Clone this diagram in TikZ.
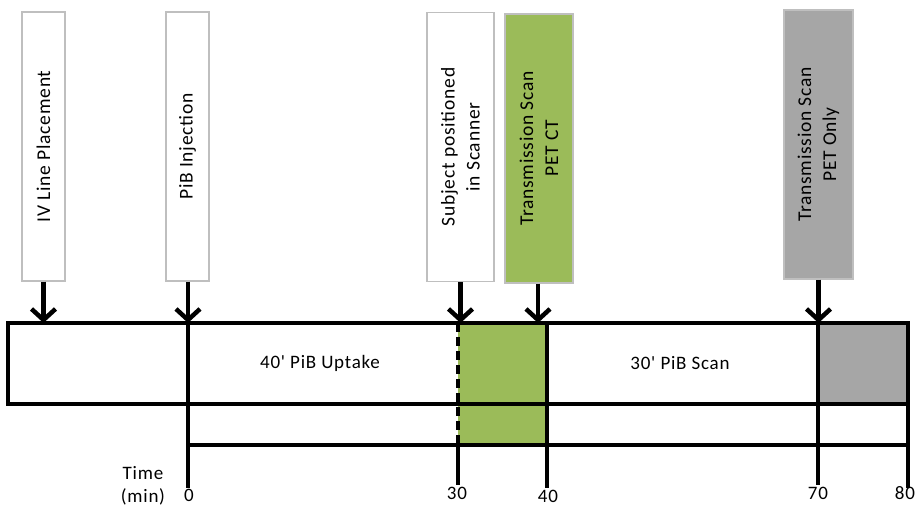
\documentclass[tikz,border=0pt]{standalone}
\usepackage{fontspec}
\setmainfont[LetterSpace=4]{Carlito}
\newfontfamily\calib[LetterSpace=4]{Carlito}
\usetikzlibrary{arrows.meta}
\definecolor{pgreen}{HTML}{9BBB59}
\definecolor{pgray}{HTML}{A6A6A6}
\definecolor{bordergray}{HTML}{BFBFBF}
\tikzset{
  evbox/.style={draw=bordergray, line width=1.2pt, rotate=90, minimum width=269pt,
    align=center, inner sep=0pt, font=\calib\fontsize{19.5}{25}\selectfont},
  tl/.style={line width=4pt, line cap=rect},
  arr/.style={line width=4.5pt, -{Straight Barb[length=11pt, width=24pt]}},
  lbl/.style={font=\calib\fontsize{19}{22}\selectfont, inner sep=0pt}
}
\begin{document}
\begin{tikzpicture}[x=1pt,y=1pt]
\useasboundingbox (0,0) rectangle (916,506);
% top event boxes
\node[evbox, fill=white, minimum height=43pt] (iv) at (43.5,359.5) {IV Line Placement};
\node[evbox, fill=white, minimum height=43pt] (inj) at (187.5,359.5) {PiB Injection};
\node[evbox, fill=white, minimum height=67pt] (subj) at (460.5,359) {Subject positioned\\in Scanner};
\node[evbox, fill=pgreen, minimum height=68pt] (petct) at (539,357.5) {Transmission Scan\\PET CT};
\node[evbox, fill=pgray, minimum height=69pt] (petonly) at (818.5,361.5) {Transmission Scan\\PET Only};
% timeline coordinates
\coordinate (L1) at (8,183);
\coordinate (R1) at (908,183);
\coordinate (L2) at (8,102);
\coordinate (R2) at (908,102);
\coordinate (L3) at (188,61);
\coordinate (R3) at (908,61);
\coordinate (t0a) at (188,183);  \coordinate (t0b) at (188,20);
\coordinate (t30a) at (458,183); \coordinate (t30m) at (458,61); \coordinate (t30b) at (458,23);
\coordinate (t40a) at (547,183); \coordinate (t40b) at (547,20);
\coordinate (t70a) at (818,183); \coordinate (t70b) at (818,23);
\coordinate (t80a) at (908,183); \coordinate (t80b) at (908,20);
% fills
\fill[pgreen] (t30a) rectangle (t40a |- L3);
\fill[pgray] (t70a) rectangle (R2);
% lines
\draw[tl] (L1) -- (R1);
\draw[tl] (L2) -- (R2);
\draw[tl] (L3) -- (R3);
\draw[tl] (L1) -- (L2);
\draw[tl] (t0a) -- (t0b);
\draw[line width=4pt, dash pattern=on 9pt off 5pt] (t30a) -- (t30m);
\draw[tl] (t30m) -- (t30b);
\draw[tl] (t40a) -- (t40b);
\draw[tl] (t70a) -- (t70b);
\draw[tl] (t80a) -- (t80b);
% arrows
\draw[arr] (iv.west) -- (iv.west |- L1);
\draw[arr] (inj.west -| t0a) -- (t0a);
\draw[arr] (subj.west) -- (subj.west |- L1);
\draw[arr] (petct.west -| 538,0) -- (538,183);
\draw[arr] (petonly.west) -- (petonly.west |- L1);
% labels
\node[lbl] (up) at (320,143) {40' PiB Uptake};
\node[lbl] (sc) at (680,143) {30' PiB Scan};
\node[lbl] (time) at (143,33) {Time};
\node[lbl] (min) at (143,9) {(min)};
\node[lbl] (n0) at (189,11) {0};
\node[lbl] (n30) at (457,13) {30};
\node[lbl] (n40) at (548,10) {40};
\node[lbl] (n70) at (818,13) {70};
\node[lbl] (n80) at (905,13) {80};
\end{tikzpicture}
\end{document}
